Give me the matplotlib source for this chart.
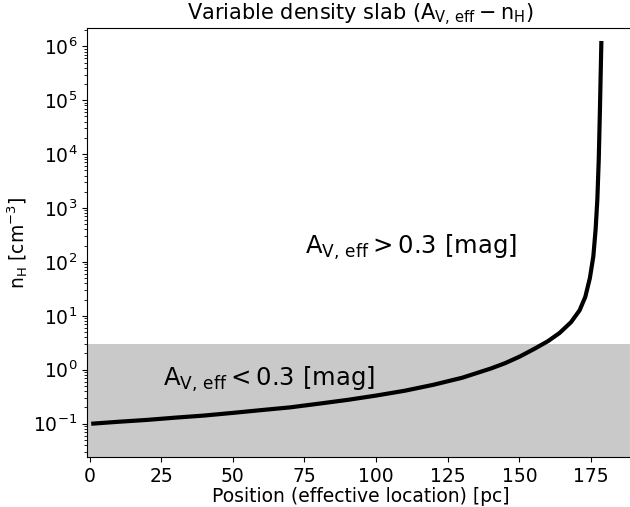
import numpy as np
import matplotlib.pyplot as plt

# values
position = [1.3, 10, 20, 30, 40, 50, 60, 70, 80, 90, 100, 110, 120, 130,
            140, 145, 150, 155, 160, 164, 168, 171, 173, 174.6, 175.8,
            176.6, 177.2, 177.7, 178.1, 178.6]
n_H = [0.1, 0.108, 0.117, 0.129, 0.141, 0.158, 0.178, 0.20, 0.234, 0.275,
       0.331, 0.407, 0.525, 0.708, 1.05, 1.32, 1.74, 2.40, 3.39, 4.79, 7.59,
       12.6, 22.4, 50.1, 126, 398, 1410, 7940, 63100, 1.15e6]
band_top = 3.0  # n_H where A_V,eff = 0.3 mag

fig = plt.figure(figsize=(6.3, 5.07), dpi=100)
ax = fig.add_axes([87 / 630, 50 / 507, 547 / 630, 429 / 507])

ax.axhspan(1e-3, band_top, color='0.79', lw=0, zorder=0)
ax.plot(position, n_H, color='k', lw=3, zorder=2, solid_joinstyle='round')

ax.set_yscale('log')
ax.set_xlim(-0.9, 190)
ax.set_ylim(10 ** -1.62, 10 ** 6.34)
ax.set_xticks([0, 25, 50, 75, 100, 125, 150, 175])
ax.set_yticks([1e-1, 1e0, 1e1, 1e2, 1e3, 1e4, 1e5, 1e6])
ax.tick_params(axis='both', labelsize=13.5)

ax.text(75.2, 182, r'$\mathregular{A_{V,\,eff} > 0.3\ [mag]}$', fontsize=17.5,
        va='center', ha='left')
ax.text(25.6, 0.67, r'$\mathregular{A_{V,\,eff} < 0.3\ [mag]}$', fontsize=17.5,
        va='center', ha='left')

ax.set_xlabel('Position (effective location) [pc]', fontsize=13.5, labelpad=1)
ax.set_ylabel(r'$\mathregular{n_H\ [cm^{-3}]}$', fontsize=13.5, labelpad=2)
ax.set_title(r'Variable density slab ($\mathregular{A_{V,\,eff} - n_H}$)',
             fontsize=15, pad=4)

fig.savefig('out.png', dpi=100)
